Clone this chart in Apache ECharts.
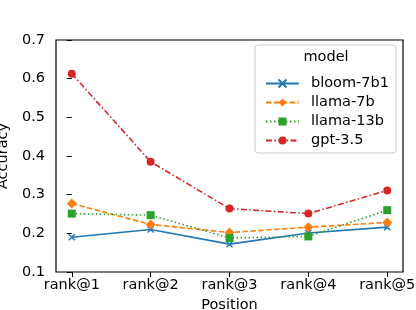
<!DOCTYPE html>
<html><head><meta charset="utf-8">
<script src="https://cdn.jsdelivr.net/npm/echarts@6/dist/echarts.min.js"></script>
<style>html,body{margin:0;padding:0;background:#fff}#c{width:416px;height:310px}</style>
</head><body><div id="c"></div>
<script>
const categories = ['rank@1','rank@2','rank@3','rank@4','rank@5'];
const bloom7b1 = [0.190, 0.210, 0.172, 0.201, 0.216];
const llama7b  = [0.277, 0.223, 0.202, 0.216, 0.228];
const llama13b = [0.251, 0.247, 0.188, 0.192, 0.260];
const gpt35    = [0.613, 0.385, 0.264, 0.251, 0.311];
const yTicks = [0.1,0.2,0.3,0.4,0.5,0.6,0.7];

const font = 'DejaVu Sans';
const fs = 14.5;
const chart = echarts.init(document.getElementById('c'));
function pts(arr){ return arr.map((v,i)=>[i,v]); }
const xIdx = categories.map((c,i)=>i);
const xPath = 'path://M0,0L10,10M10,0L0,10';
function mk(name, data, color, type, symbol, size, bw){
  return {
    name, type:'line', data: pts(data), symbol, symbolSize:size,
    lineStyle:{color, width:1.6, type},
    itemStyle:{color, borderColor:color, borderWidth:bw||0},
    emphasis:{disabled:true}, animation:false, z:2
  };
}
chart.setOption({
  animation:false,
  grid:{left:56, right:13, top:40, bottom:38, containLabel:false, outerBoundsMode:'none',
    show:true, borderColor:'#000', borderWidth:1.2, backgroundColor:'transparent'},
  xAxis:{type:'value', min:-0.2, max:4.2,
    axisLine:{show:false}, splitLine:{show:false},
    axisTick:{show:true, length:5, customValues:xIdx, lineStyle:{color:'#000'}},
    axisLabel:{color:'#000', fontFamily:font, fontSize:fs, margin:6, customValues:xIdx,
      formatter:v=> categories[Math.round(v)]},
    name:'Position', nameLocation:'middle', nameGap:16,
    nameTextStyle:{color:'#000', fontFamily:font, fontSize:fs}
  },
  yAxis:{type:'value', min:0.1, max:0.7, interval:0.1,
    axisLine:{show:false}, splitLine:{show:false},
    axisTick:{show:true, length:5, lineStyle:{color:'#000'}},
    axisLabel:{color:'#000', fontFamily:font, fontSize:fs, margin:11, formatter:v=>v.toFixed(1)},
    name:'Accuracy', nameLocation:'middle', nameGap:38, nameRotate:90,
    nameTextStyle:{color:'#000', fontFamily:font, fontSize:fs}
  },
  legend:{orient:'vertical', left:260, top:71, itemWidth:33, itemHeight:10, itemGap:4,
    textStyle:{color:'#000', fontFamily:font, fontSize:fs, padding:[0,0,0,7]},
    data:['bloom-7b1','llama-7b','llama-13b','gpt-3.5'], z:5, selectedMode:false},
  graphic:[
    {type:'rect', shape:{x:255, y:45, width:141, height:108, r:3}, style:{fill:'rgba(255,255,255,0.85)', stroke:'#cccccc', lineWidth:1}, z:4},
    {type:'text', x:326, y:57, style:{text:'model', fontFamily:font, fontSize:fs, fill:'#000', align:'center', verticalAlign:'middle'}, z:5}
  ],
  series:[
    mk('bloom-7b1', bloom7b1, '#1f77b4', 'solid', xPath, 6, 1.5),
    mk('llama-7b', llama7b, '#ff7f0e', [5.5,2.4], 'diamond', 10),
    mk('llama-13b', llama13b, '#2ca02c', [1.5,2.5], 'rect', 8),
    mk('gpt-3.5', gpt35, '#d62728', [6,2.4,1.5,2.4], 'circle', 8)
  ]
});
</script></body></html>
